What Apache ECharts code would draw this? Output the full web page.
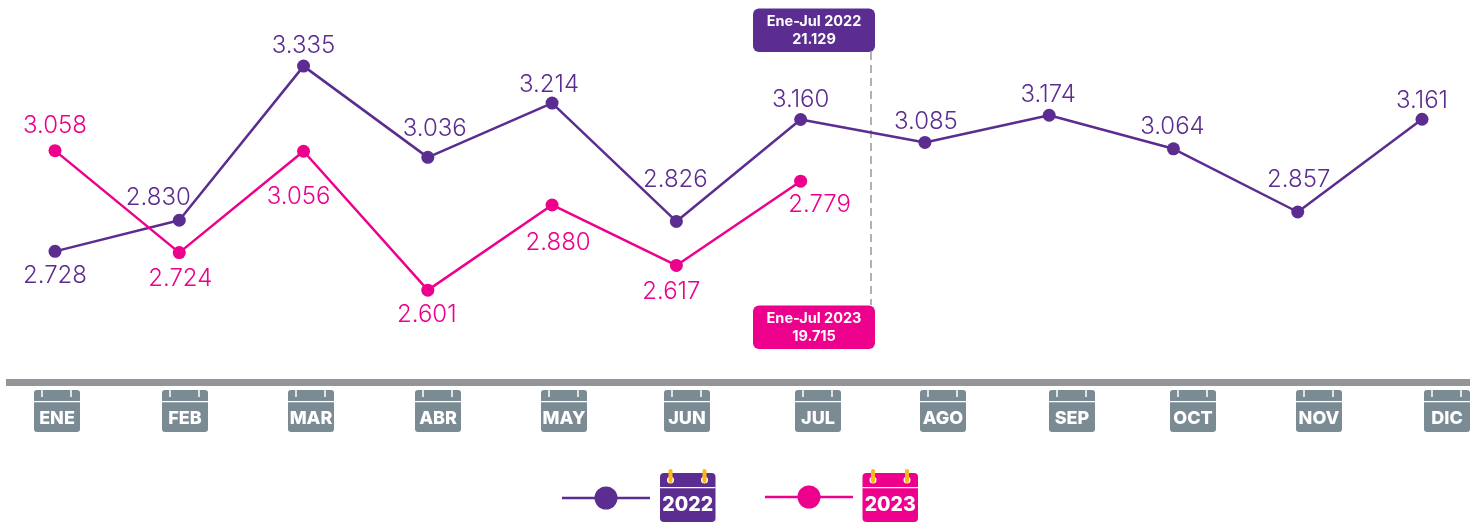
<!DOCTYPE html>
<html>
<head>
<meta charset="utf-8">
<style>
  html, body { margin: 0; padding: 0; background: #fff; }
  #main { width: 1475px; height: 522px; }
</style>
<script src="https://cdn.jsdelivr.net/npm/echarts@6/dist/echarts.min.js"></script>
</head>
<body>
<div id="main"></div>
<script>
const months = ["ENE", "FEB", "MAR", "ABR", "MAY", "JUN", "JUL", "AGO", "SEP", "OCT", "NOV", "DIC"];

const values2022 = [2728, 2830, 3335, 3036, 3214, 2826, 3160, 3085, 3174, 3064, 2857, 3161];
// the source draws two pink points away from their printed figures,
// so heights and printed labels are kept apart
const heights2023 = [3058, 2724, 3056, 2601, 2880, 2682, 2958];
const printed2023 = [3058, 2724, 3056, 2601, 2880, 2617, 2779];

const total2022 = ["Ene-Jul 2022", "21.129"];
const total2023 = ["Ene-Jul 2023", "19.715"];

const PURPLE = "#5b2d90";
const PINK = "#ec008c";
const SLATE = "#7b8b93";
const GOLD = "#fdb913";
const FONT = "Inter";

// label offsets from each point
const offsets2022 = [[0, 24], [-21, -22], [0, -20], [7, -29], [-3, -18], [-1, -42], [0, -20], [1, -21], [-1, -20], [-1, -22], [1, -32], [0, -18]];
const offsets2023 = [[0, -25], [1, 26], [-5, 46], [-1, 25], [6, 38], [-5, 26], [19, 24]];
const iconCenters = [57, 185, 311, 438, 564, 687, 818, 943, 1072, 1193, 1319, 1447];

const fmt = (v) => (v / 1000).toFixed(3);

function makeSeries(name, color, heights, printed, offsets) {
  return {
    name,
    type: "line",
    data: heights.map((v, i) => ({
      value: v,
      label: { formatter: fmt(printed[i]), offset: offsets[i] },
    })),
    symbol: "circle",
    symbolSize: 13,
    lineStyle: { color, width: 2.5 },
    itemStyle: { color },
    label: {
      show: true,
      position: "inside",
      color,
      fontFamily: FONT,
      fontSize: 24,
      fontWeight: 300,
    },
    silent: true,
    z: 3,
  };
}

function monthIcon(label, cx) {
  const left = cx - 23;
  return {
    type: "group",
    children: [
      { type: "rect", shape: { x: left, y: 390, width: 46, height: 42, r: 3 }, style: { fill: SLATE } },
      { type: "rect", shape: { x: left, y: 401, width: 46, height: 1.2 }, style: { fill: "#fff" } },
      { type: "line", shape: { x1: left + 8, y1: 389, x2: left + 8, y2: 397 }, style: { stroke: "#fff", lineWidth: 1.5 } },
      { type: "line", shape: { x1: left + 37, y1: 389, x2: left + 37, y2: 397 }, style: { stroke: "#fff", lineWidth: 1.5 } },
      {
        type: "text",
        style: {
          x: cx, y: 418.5, text: label, fill: "#fff", align: "center", verticalAlign: "middle",
          fontFamily: FONT, fontSize: 18, fontWeight: 800,
        },
      },
    ],
  };
}

function totalBox(lines, color, top) {
  return {
    type: "group",
    children: [
      { type: "rect", shape: { x: 753, y: top, width: 122, height: 43.5, r: 6 }, style: { fill: color } },
      {
        type: "text",
        style: {
          x: 814, y: top + 22, text: lines.join("\n"), fill: "#fff", align: "center", verticalAlign: "middle",
          fontFamily: FONT, fontSize: 14.5, fontWeight: 700, lineHeight: 18,
        },
      },
    ],
  };
}

function legendItem(label, color, lineX, lineY, iconX) {
  return {
    type: "group",
    children: [
      { type: "line", shape: { x1: lineX, y1: lineY, x2: lineX + 88, y2: lineY }, style: { stroke: color, lineWidth: 2.5 } },
      { type: "circle", shape: { cx: lineX + 44, cy: lineY, r: 11.5 }, style: { fill: color } },
      { type: "rect", shape: { x: iconX, y: 473, width: 55.5, height: 49, r: 4 }, style: { fill: color } },
      { type: "rect", shape: { x: iconX, y: 487, width: 55.5, height: 1.2 }, style: { fill: "#fff" } },
      { type: "circle", shape: { cx: iconX + 10.5, cy: 480, r: 3.5 }, style: { fill: "#fff" } },
      { type: "circle", shape: { cx: iconX + 44.5, cy: 480, r: 3.5 }, style: { fill: "#fff" } },
      { type: "line", shape: { x1: iconX + 10.5, y1: 471, x2: iconX + 10.5, y2: 481 }, style: { stroke: GOLD, lineWidth: 4, lineCap: "round" } },
      { type: "line", shape: { x1: iconX + 44.5, y1: 471, x2: iconX + 44.5, y2: 481 }, style: { stroke: GOLD, lineWidth: 4, lineCap: "round" } },
      {
        type: "text",
        style: {
          x: iconX + 27.75, y: 505.5, text: label, fill: "#fff", align: "center", verticalAlign: "middle",
          fontFamily: FONT, fontSize: 19.5, fontWeight: 800,
        },
      },
    ],
  };
}

const chart = echarts.init(document.getElementById("main"), null, { renderer: "canvas" });
chart.setOption({
  animation: false,
  backgroundColor: "#fff",
  grid: { left: 55, width: 1367, top: 0.5, height: 381.5 },
  xAxis: {
    type: "category",
    data: months,
    boundaryGap: false,
    axisLine: { show: false },
    axisTick: { show: false },
    axisLabel: { show: false },
    splitLine: { show: false },
  },
  yAxis: { type: "value", min: 2300, max: 3550, show: false, splitLine: { show: false } },
  series: [
    makeSeries("2022", PURPLE, values2022, values2022, offsets2022),
    makeSeries("2023", PINK, heights2023, printed2023, offsets2023),
  ],
  graphic: [
    { type: "rect", shape: { x: 6, y: 379, width: 1464, height: 7 }, style: { fill: "#939598" } },
    { type: "line", shape: { x1: 871, y1: 52, x2: 871, y2: 305 }, style: { stroke: "#999", lineWidth: 1.5, lineDash: [8, 5] } },
    totalBox(total2022, PURPLE, 8.5),
    totalBox(total2023, PINK, 305.5),
    ...months.map((m, i) => monthIcon(m, iconCenters[i])),
    legendItem("2022", PURPLE, 562, 498, 660),
    legendItem("2023", PINK, 765, 497, 862.5),
  ],
});
</script>
</body>
</html>
